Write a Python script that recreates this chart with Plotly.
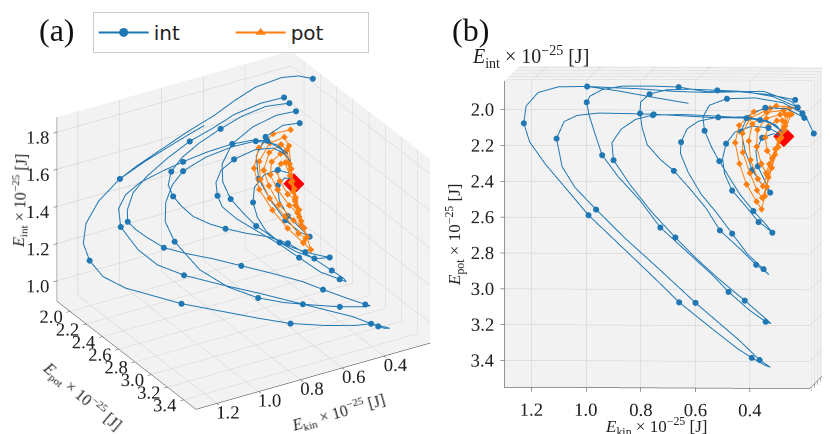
import plotly.graph_objects as go

# tick values (x 1e-25 J)
kin_ticks = [0.4, 0.6, 0.8, 1.0, 1.2]
pot_ticks = [2.0, 2.2, 2.4, 2.6, 2.8, 3.0, 3.2, 3.4]
int_ticks = [1.0, 1.2, 1.4, 1.6, 1.8]

# "int" runs (blue), one list per energy
f0_kin = [1.03, 0.92, 0.80, 0.67]
f0_pot = [1.92, 1.95, 1.99, 2.03]
f0_int = [1.49, 1.56, 1.63, 1.70]
f0_mark = [0]

f1_kin = [0.22, 0.25, 0.30, 0.40, 0.50, 0.60, 0.72, 0.85, 0.95, 1.03, 1.13, 1.20, 1.24, 1.245, 1.22, 1.16,
          1.08, 1.00, 0.88, 0.76, 0.665, 0.55, 0.45, 0.40, 0.35, 0.33, 0.35, 0.37, 0.45, 0.61, 0.75, 0.87,
          0.98, 1.06, 1.11, 1.135, 1.11, 1.065, 0.99, 0.88, 0.79, 0.68, 0.57, 0.47, 0.40, 0.34, 0.31]
f1_pot = [2.21, 2.11, 2.03, 1.97, 1.97, 1.97, 1.96, 1.94, 1.93, 1.92, 1.915, 1.94, 2.01, 2.10, 2.20, 2.32,
          2.46, 2.60, 2.77, 2.94, 3.08, 3.22, 3.34, 3.39, 3.43, 3.44, 3.42, 3.40, 3.29, 3.09, 2.90, 2.74,
          2.58, 2.46, 2.35, 2.20, 2.11, 2.08, 2.07, 2.075, 2.08, 2.09, 2.10, 2.10, 2.11, 2.13, 2.17]
f1_int = [1.87, 1.86, 1.84, 1.80, 1.76, 1.71, 1.66, 1.59, 1.54, 1.49, 1.40, 1.31, 1.24, 1.18, 1.12, 1.08,
          1.06, 1.04, 1.02, 1.00, 0.99, 0.99, 1.00, 1.01, 0.99, 0.98, 0.98, 0.99, 1.03, 1.08, 1.12, 1.15,
          1.18, 1.22, 1.28, 1.36, 1.42, 1.47, 1.51, 1.54, 1.56, 1.58, 1.59, 1.58, 1.56, 1.50, 1.44]
f1_mark = [0, 9, 13, 17, 20, 23, 27, 29, 32, 35, 40, 44]

f2_kin = [0.28, 0.38, 0.50, 0.60, 0.70, 0.80, 0.90, 0.97, 1.01, 1.02, 1.01, 0.99, 0.96, 0.90, 0.82, 0.745,
          0.64, 0.55, 0.49, 0.41, 0.35, 0.33, 0.35, 0.425, 0.52, 0.60, 0.68, 0.77, 0.85, 0.92, 0.93, 0.90,
          0.85, 0.79, 0.68, 0.56, 0.45, 0.36, 0.32]
f2_pot = [2.01, 1.98, 1.96, 1.96, 1.93, 1.92, 1.915, 1.93, 1.96, 1.99, 2.06, 2.15, 2.28, 2.40, 2.53, 2.68,
          2.82, 2.94, 3.03, 3.13, 3.19, 3.20, 3.17, 3.07, 2.95, 2.84, 2.72, 2.58, 2.44, 2.31, 2.22, 2.15,
          2.10, 2.08, 2.08, 2.09, 2.10, 2.12, 2.16]
f2_int = [1.72, 1.71, 1.68, 1.64, 1.59, 1.53, 1.46, 1.40, 1.33, 1.28, 1.26, 1.24, 1.22, 1.21, 1.20, 1.19,
          1.16, 1.13, 1.10, 1.06, 1.03, 1.02, 1.01, 1.00, 1.00, 1.00, 1.01, 1.05, 1.12, 1.25, 1.33, 1.40,
          1.46, 1.51, 1.55, 1.57, 1.57, 1.53, 1.48]
f2_mark = [0, 4, 9, 12, 15, 18, 20, 23, 26, 29, 33, 36]

f3_kin = [0.27, 0.36, 0.46, 0.56, 0.66, 0.74, 0.80, 0.83, 0.83, 0.82, 0.80, 0.75, 0.70, 0.64, 0.58, 0.53,
          0.45, 0.39, 0.35, 0.34, 0.36, 0.42, 0.48, 0.54, 0.60, 0.65, 0.68, 0.68, 0.66, 0.62, 0.55, 0.45,
          0.37, 0.33]
f3_pot = [2.05, 1.99, 1.96, 1.95, 1.94, 1.94, 1.96, 2.00, 2.06, 2.14, 2.23, 2.31, 2.37, 2.47, 2.58, 2.70,
          2.80, 2.88, 2.92, 2.93, 2.90, 2.82, 2.71, 2.60, 2.50, 2.38, 2.28, 2.22, 2.15, 2.11, 2.09, 2.09,
          2.11, 2.15]
f3_int = [1.70, 1.69, 1.66, 1.62, 1.57, 1.52, 1.47, 1.42, 1.38, 1.35, 1.32, 1.29, 1.27, 1.26, 1.26, 1.25,
          1.18, 1.12, 1.08, 1.06, 1.07, 1.10, 1.16, 1.22, 1.27, 1.31, 1.35, 1.39, 1.43, 1.47, 1.50, 1.52,
          1.51, 1.48]
f3_mark = [0, 3, 6, 8, 12, 15, 17, 20, 22, 27, 30]

f4_kin = [0.25, 0.32, 0.42, 0.52, 0.58, 0.60, 0.59, 0.56, 0.53, 0.49, 0.45, 0.40, 0.35, 0.33, 0.36, 0.38,
          0.43, 0.48, 0.51, 0.52, 0.51, 0.48, 0.42, 0.36, 0.32]
f4_pot = [2.08, 2.02, 1.99, 1.99, 2.02, 2.08, 2.15, 2.24, 2.31, 2.40, 2.49, 2.58, 2.66, 2.70, 2.66, 2.64,
          2.55, 2.47, 2.38, 2.30, 2.22, 2.16, 2.13, 2.14, 2.17]
f4_int = [1.66, 1.64, 1.60, 1.54, 1.46, 1.39, 1.32, 1.26, 1.21, 1.17, 1.14, 1.12, 1.11, 1.11, 1.10, 1.10,
          1.12, 1.16, 1.20, 1.25, 1.30, 1.35, 1.39, 1.40, 1.38]
f4_mark = [0, 3, 6, 8, 11, 13, 15, 17, 20, 23]

f5_kin = [0.24, 0.30, 0.38, 0.44, 0.46, 0.44, 0.41, 0.37, 0.34, 0.36, 0.39, 0.40, 0.38, 0.34, 0.31]
f5_pot = [2.10, 2.05, 2.04, 2.08, 2.16, 2.26, 2.36, 2.44, 2.48, 2.42, 2.34, 2.26, 2.19, 2.17, 2.18]
f5_int = [1.60, 1.59, 1.55, 1.48, 1.39, 1.30, 1.22, 1.17, 1.15, 1.18, 1.23, 1.29, 1.34, 1.36, 1.35]
f5_mark = [0, 2, 4, 6, 8, 10, 12]

# "pot" runs (orange), spiralling in towards the fixed point
pot_kin = [0.26, 0.34, 0.42, 0.47, 0.48, 0.46, 0.43, 0.39, 0.37, 0.36, 0.35, 0.33, 0.30, 0.28,
           0.29, 0.36, 0.43, 0.455, 0.45, 0.42, 0.39, 0.37, 0.355, 0.34, 0.32, 0.30, 0.29,
           0.31, 0.37, 0.42, 0.43, 0.42, 0.39, 0.37, 0.355, 0.34, 0.32, 0.30, 0.30,
           0.32, 0.37, 0.40, 0.40, 0.38, 0.36, 0.35, 0.33, 0.31, 0.31,
           0.33, 0.36, 0.37, 0.36, 0.34, 0.33, 0.31, 0.30]
pot_pot = [2.04, 2.03, 2.06, 2.13, 2.22, 2.33, 2.44, 2.53, 2.57, 2.50, 2.40, 2.28, 2.15, 2.07,
           2.04, 2.04, 2.09, 2.17, 2.27, 2.38, 2.47, 2.51, 2.45, 2.35, 2.24, 2.13, 2.07,
           2.05, 2.06, 2.12, 2.21, 2.31, 2.41, 2.45, 2.39, 2.30, 2.20, 2.11, 2.07,
           2.07, 2.09, 2.15, 2.24, 2.33, 2.38, 2.33, 2.25, 2.16, 2.10,
           2.10, 2.13, 2.19, 2.26, 2.30, 2.25, 2.19, 2.18]
pot_int = [1.55, 1.55, 1.51, 1.44, 1.36, 1.28, 1.21, 1.15, 1.12, 1.16, 1.21, 1.29, 1.39, 1.48,
           1.52, 1.51, 1.45, 1.39, 1.32, 1.25, 1.18, 1.16, 1.19, 1.25, 1.32, 1.41, 1.46,
           1.49, 1.47, 1.41, 1.36, 1.29, 1.23, 1.21, 1.23, 1.28, 1.34, 1.41, 1.45,
           1.45, 1.43, 1.39, 1.34, 1.28, 1.25, 1.27, 1.31, 1.36, 1.41,
           1.41, 1.39, 1.36, 1.31, 1.29, 1.31, 1.34, 1.32]

# equilibrium point
star_kin = [0.30]
star_pot = [2.18]
star_int = [1.32]

blue = '#1f77b4'
orange = '#ff7f0e'

int_runs = [
    (f0_kin, f0_pot, f0_int, f0_mark),
    (f1_kin, f1_pot, f1_int, f1_mark),
    (f2_kin, f2_pot, f2_int, f2_mark),
    (f3_kin, f3_pot, f3_int, f3_mark),
    (f4_kin, f4_pot, f4_int, f4_mark),
    (f5_kin, f5_pot, f5_int, f5_mark),
]

fig = go.Figure()

for scene in ['scene', 'scene2']:
    for kin, pot, eint, mark in int_runs:
        fig.add_trace(go.Scatter3d(x=kin, y=pot, z=eint, mode='lines',
                                   line=dict(color=blue, width=2),
                                   showlegend=False, scene=scene))
        fig.add_trace(go.Scatter3d(x=[kin[i] for i in mark], y=[pot[i] for i in mark],
                                   z=[eint[i] for i in mark], mode='markers',
                                   marker=dict(color=blue, size=3.5),
                                   showlegend=False, scene=scene))
    fig.add_trace(go.Scatter3d(x=pot_kin, y=pot_pot, z=pot_int, mode='lines+markers',
                               line=dict(color=orange, width=2),
                               marker=dict(color=orange, size=2.2, symbol='diamond'),
                               showlegend=False, scene=scene))
    fig.add_trace(go.Scatter3d(x=star_kin, y=star_pot, z=star_int, mode='markers',
                               marker=dict(color='red', size=7, symbol='diamond'),
                               showlegend=False, scene=scene))

# legend entries (2d, so the triangle symbol is available)
fig.add_trace(go.Scatter(x=[None], y=[None], mode='lines+markers', name='int',
                         line=dict(color=blue, width=2), marker=dict(size=9, symbol='circle')))
fig.add_trace(go.Scatter(x=[None], y=[None], mode='lines+markers', name='pot',
                         line=dict(color=orange, width=2), marker=dict(size=9, symbol='triangle-up')))

serif = 'Liberation Serif'
unit = ' × 10<sup>−25</sup> [J]'
kin_title = '<i>E</i><sub>kin</sub>' + unit
pot_title = '<i>E</i><sub>pot</sub>' + unit
int_title = '<i>E</i><sub>int</sub>' + unit


def axis(ticks, rng, show_labels=True):
    return dict(title=dict(text=''),
                tickvals=ticks, ticktext=['%.1f' % t for t in ticks], range=rng,
                showticklabels=show_labels, tickangle=0,
                tickfont=dict(family=serif, size=15, color='#222'),
                showbackground=True, backgroundcolor='rgb(242,242,242)',
                gridcolor='rgb(205,205,205)', gridwidth=1,
                showline=True, linecolor='#333', linewidth=1,
                ticks='outside', ticklen=4, tickcolor='#333',
                zeroline=False, showspikes=False)


kin_rng = [0.18, 1.30]
pot_rng = [1.84, 3.55]
int_rng = [0.89, 1.88]

font_a = dict(family=serif, size=16, color='#222')
font_b = dict(family=serif, size=17, color='#222')


def label(text, x, y, font, angle=0):
    return dict(text=text, x=x, y=y, xref='paper', yref='paper', textangle=angle,
                showarrow=False, xanchor='center', yanchor='middle', font=font)


fig.update_layout(
    width=830, height=434,
    margin=dict(l=0, r=0, t=0, b=0),
    paper_bgcolor='white', plot_bgcolor='rgba(0,0,0,0)',
    xaxis=dict(visible=False), yaxis=dict(visible=False),
    legend=dict(orientation='h', x=0.102, y=0.991, xanchor='left', yanchor='top',
                font=dict(family='DejaVu Sans', size=20, color='#222'),
                bordercolor='#ccc', borderwidth=1, bgcolor='white',
                entrywidth=72, itemwidth=50),
    scene=dict(
        domain=dict(x=[0.0, 0.568], y=[0.0, 1.0]),
        xaxis=axis(kin_ticks, kin_rng),
        yaxis=axis(pot_ticks, pot_rng),
        zaxis=axis(int_ticks, int_rng),
        aspectmode='manual', aspectratio=dict(x=1.26, y=1.24, z=0.96),
        camera=dict(eye=dict(x=0.456, y=0.756, z=0.496), up=dict(x=0, y=0, z=1),
                    center=dict(x=0, y=0, z=0.027),
                    projection=dict(type='orthographic')),
    ),
    scene2=dict(
        domain=dict(x=[0.545, 1.0], y=[0.0, 1.0]),
        xaxis=axis(kin_ticks, kin_rng),
        yaxis=axis(pot_ticks, pot_rng),
        zaxis=axis(int_ticks, int_rng, show_labels=False),
        aspectmode='manual', aspectratio=dict(x=1.41, y=1.415, z=1.2),
        camera=dict(eye=dict(x=0.122, y=0.04, z=0.87), up=dict(x=0, y=-1, z=0),
                    center=dict(x=0.072, y=-0.01, z=0),
                    projection=dict(type='orthographic')),
    ),
    annotations=[
        label('(a)', 0.059, 0.949, dict(family=serif, size=32, color='#111')),
        label('(b)', 0.557, 0.949, dict(family=serif, size=32, color='#111')),
        # panel (a) axis titles
        label(int_title, 0.014, 0.555, font_a, angle=-88),
        label(pot_title, 0.090, 0.105, font_a, angle=40),
        label(kin_title, 0.398, 0.068, font_a, angle=-16),
        # panel (b) axis titles
        label(int_title, 0.630, 0.887, dict(family=serif, size=20, color='#222')),
        label(pot_title, 0.5386, 0.477, font_b, angle=-90),
        label(kin_title, 0.781, 0.036, font_b),
    ],
)

fig.write_html('out.html')
